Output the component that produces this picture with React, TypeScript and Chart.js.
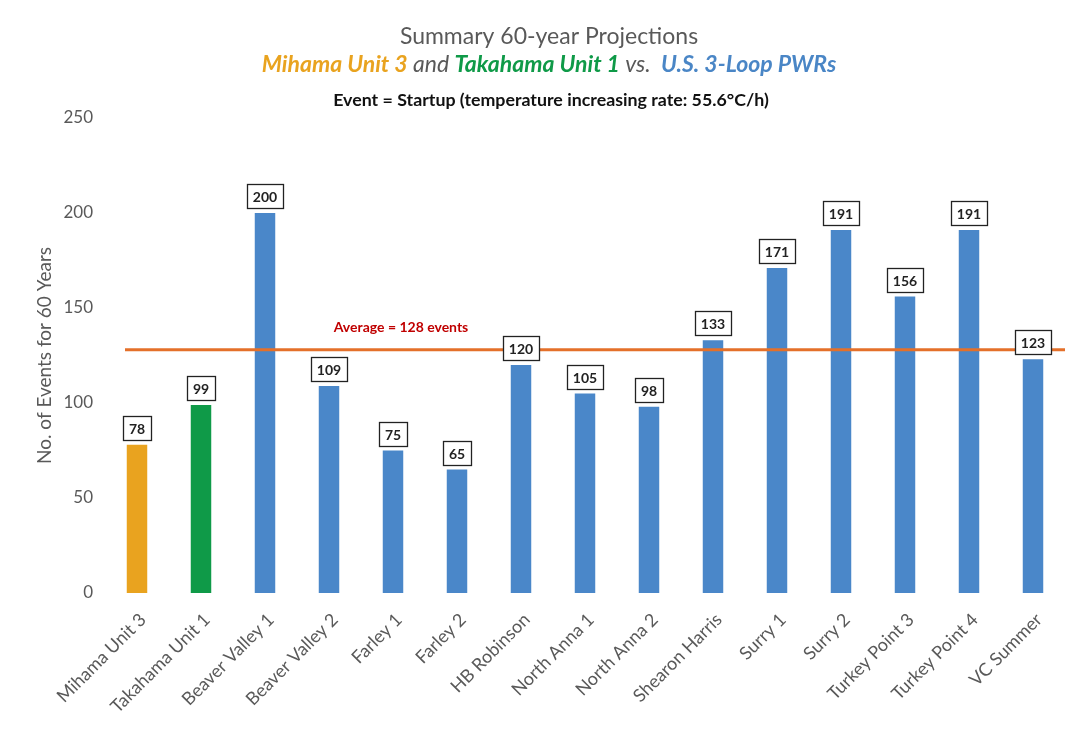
import React, { useEffect, useRef } from 'react';
import { Chart, registerables } from 'chart.js';

Chart.register(...registerables);

const categories = [
  'Mihama Unit 3', 'Takahama Unit 1', 'Beaver Valley 1', 'Beaver Valley 2', 'Farley 1', 'Farley 2',
  'HB Robinson', 'North Anna 1', 'North Anna 2', 'Shearon Harris', 'Surry 1', 'Surry 2',
  'Turkey Point 3', 'Turkey Point 4', 'VC Summer',
];
const eventCounts = [78, 99, 200, 109, 75, 65, 120, 105, 98, 133, 171, 191, 156, 191, 123];
const averageEvents = [128];
const yTickValues = [0, 50, 100, 150, 200, 250];
const titleLine1 = 'Summary 60-year Projections';
const titleLine2 = [
  { text: 'Mihama Unit 3', kind: 'mihama' },
  { text: ' and ', kind: 'plain' },
  { text: 'Takahama Unit 1', kind: 'takahama' },
  { text: ' vs. ', kind: 'plain' },
  { text: ' U.S. 3-Loop PWRs', kind: 'us' },
];
const titleLine3 = 'Event = Startup (temperature increasing rate: 55.6\u00B0C/h)';
const averageLabel = 'Average = 128 events';
const yAxisTitle = 'No. of Events for 60 Years';

const ORANGE = '#E9A31F';
const GREEN = '#0F9A48';
const BLUE = '#4A87C9';
const GRAY = '#595959';
const FONT = 'Lato, "Open Sans", sans-serif';

const segStyle: Record<string, { color: string; font: string }> = {
  mihama: { color: ORANGE, font: `italic bold 23px ${FONT}` },
  takahama: { color: GREEN, font: `italic bold 23px ${FONT}` },
  us: { color: '#4A86C6', font: `italic bold 23px ${FONT}` },
  plain: { color: GRAY, font: `italic 23px ${FONT}` },
};

const titlePlugin = {
  id: 'customTitle',
  afterDraw(chart: any) {
    const ctx = chart.ctx;
    const cx = 549;
    ctx.save();
    ctx.textBaseline = 'middle';
    ctx.textAlign = 'center';
    ctx.fillStyle = GRAY;
    ctx.font = `23px ${FONT}`;
    ctx.fillText(titleLine1, cx, 37);

    let total = 0;
    for (const s of titleLine2) {
      ctx.font = segStyle[s.kind].font;
      total += ctx.measureText(s.text).width;
    }
    let x = cx - total / 2;
    ctx.textAlign = 'left';
    for (const s of titleLine2) {
      ctx.font = segStyle[s.kind].font;
      ctx.fillStyle = segStyle[s.kind].color;
      ctx.fillText(s.text, x, 65);
      x += ctx.measureText(s.text).width;
    }

    ctx.textAlign = 'center';
    ctx.fillStyle = '#111111';
    ctx.font = `bold 17.8px ${FONT}`;
    ctx.fillText(titleLine3, cx + 2, 100);
    ctx.restore();
  },
};

const averagePlugin = {
  id: 'averageLine',
  afterDatasetsDraw(chart: any) {
    const ctx = chart.ctx;
    const y = chart.scales.y.getPixelForValue(averageEvents[0]);
    const xs = chart.scales.x;
    const left = xs.getPixelForValue(0) - 12;
    const right = chart.chartArea.right;
    ctx.save();
    ctx.strokeStyle = '#E4702A';
    ctx.lineWidth = 3;
    ctx.beginPath();
    ctx.moveTo(left, y);
    ctx.lineTo(right, y);
    ctx.stroke();
    ctx.fillStyle = '#C00000';
    ctx.font = `bold 14px ${FONT}`;
    ctx.textAlign = 'center';
    ctx.textBaseline = 'middle';
    const lx = (xs.getPixelForValue(3) + xs.getPixelForValue(4)) / 2 + 40;
    ctx.fillText(averageLabel, lx, y - 22);

    // value boxes
    const meta = chart.getDatasetMeta(0);
    ctx.font = `bold 14px ${FONT}`;
    meta.data.forEach((bar: any, i: number) => {
      const txt = String(eventCounts[i]);
      const w = Math.round(ctx.measureText(txt).width + 12);
      const h = 24;
      const bx = Math.round(bar.x - w / 2);
      const by = Math.round(bar.y - 5 - h);
      ctx.fillStyle = '#ffffff';
      ctx.fillRect(bx, by, w, h);
      ctx.strokeStyle = '#222222';
      ctx.lineWidth = 1.3;
      ctx.strokeRect(bx + 0.5, by + 0.5, w, h);
      ctx.fillStyle = '#222222';
      ctx.fillText(txt, bar.x, by + h / 2 + 1.5);
    });
    ctx.restore();
  },
};

export default function App() {
  const ref = useRef<HTMLCanvasElement | null>(null);
  useEffect(() => {
    if (!ref.current) return;
    const chart = new Chart(ref.current, {
      type: 'bar',
      data: {
        labels: categories,
        datasets: [
          {
            data: eventCounts,
            backgroundColor: (c: any) => (c.dataIndex === 0 ? ORANGE : c.dataIndex === 1 ? GREEN : BLUE),
            barPercentage: 0.32,
            categoryPercentage: 1,
          },
        ],
      },
      options: {
        animation: false,
        responsive: true,
        maintainAspectRatio: false,
        layout: { padding: { top: 118, right: 13, left: 0, bottom: 0 } },
        plugins: { legend: { display: false }, tooltip: { enabled: false }, title: { display: false } },
        scales: {
          x: {
            grid: { display: false, drawTicks: false },
            border: { display: false },
            ticks: {
              autoSkip: false,
              maxRotation: 45,
              minRotation: 45,
              color: GRAY,
              font: { family: FONT, size: 18 },
              padding: 16,
              labelOffset: 6,
            },
            afterFit: (s: any) => { s.height = 157; },
          },
          y: {
            min: 0,
            max: 250,
            afterBuildTicks: (s: any) => { s.ticks = yTickValues.map((v) => ({ value: v })); },
            grid: { display: false, drawTicks: false },
            border: { display: false },
            ticks: { color: GRAY, font: { family: FONT, size: 17 }, padding: 12 },
            title: {
              display: true,
              text: yAxisTitle,
              color: GRAY,
              font: { family: FONT, size: 19 },
              padding: { top: 33, bottom: 0 },
            },
            afterFit: (s: any) => { s.width = 105; },
          },
        },
      },
      plugins: [titlePlugin, averagePlugin],
    });
    return () => chart.destroy();
  }, []);
  return (
    <div style={{ position: 'absolute', left: 0, top: 0, width: 1078, height: 750, background: '#ffffff' }}>
      <canvas ref={ref} />
    </div>
  );
}
